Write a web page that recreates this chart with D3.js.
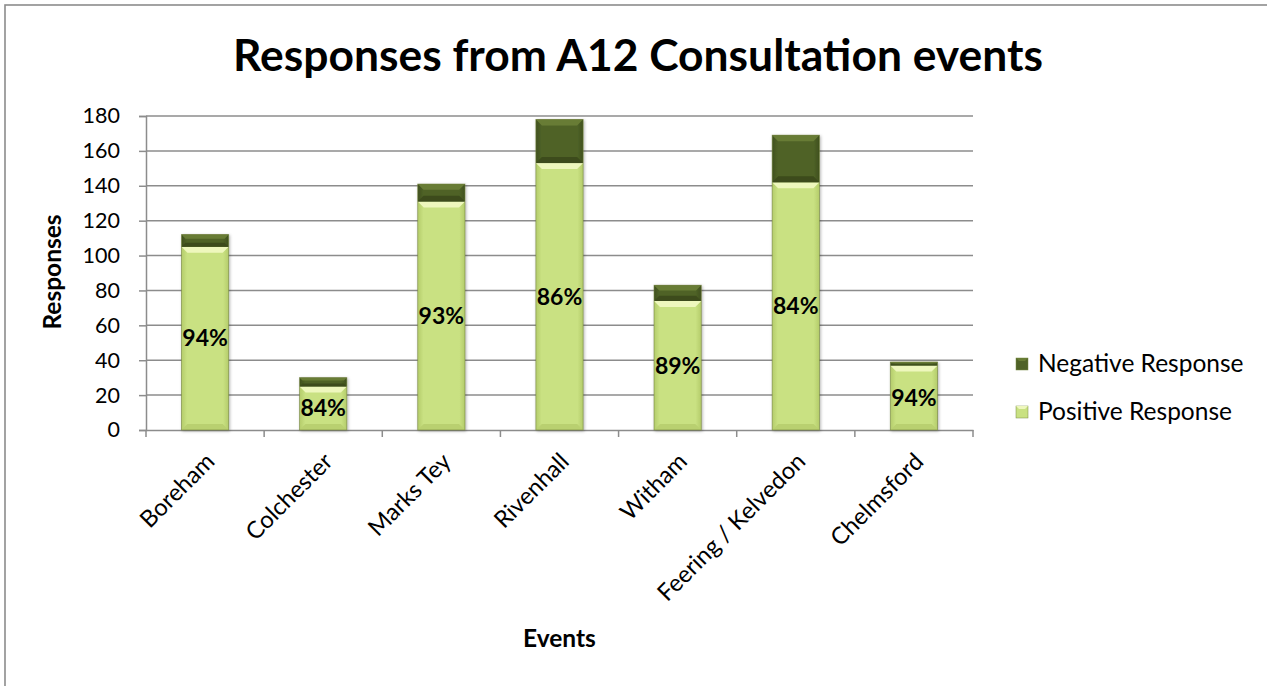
<!DOCTYPE html>
<html>
<head>
<meta charset="utf-8">
<script src="https://cdn.jsdelivr.net/npm/d3@7"></script>
<style>
  html, body { margin: 0; padding: 0; background: #fff; }
  svg { display: block; font-family: Lato, "Noto Sans", sans-serif; }
</style>
</head>
<body>
<svg id="chart" width="1267" height="686"></svg>
<script>
const categories = ["Boreham", "Colchester", "Marks Tey", "Rivenhall", "Witham", "Feering / Kelvedon", "Chelmsford"];
const positive = [105, 25, 131, 153, 74, 142, 37];
const negative = [7, 5, 10, 25, 9, 27, 2];
const pctLabels = ["94%", "84%", "93%", "86%", "89%", "84%", "94%"];
const yTicks = [0, 20, 40, 60, 80, 100, 120, 140, 160, 180];
const seriesNames = ["Negative Response", "Positive Response"];
const titleText = "Responses from A12 Consultation events";
const xTitle = "Events";
const yTitle = "Responses";

const svg = d3.select("#chart");
const W = 1267, H = 686;
const plot = { left: 146, right: 973, top: 116, bottom: 430 };
const FONT = "Lato, 'Noto Sans', sans-serif";

// outer border
svg.append("rect").attr("x", 5).attr("y", 5).attr("width", W + 10).attr("height", H + 10)
  .attr("fill", "#fff").attr("stroke", "#8c8c8c").attr("stroke-width", 1.6);

const x = d3.scaleBand().domain(categories).range([plot.left, plot.right]).paddingInner(0.6).paddingOuter(0.3);
const y = d3.scaleLinear().domain([0, 180]).range([plot.bottom, plot.top]);

// gradients
const defs = svg.append("defs");
function hGrad(id, edge, mid) {
  const g = defs.append("linearGradient").attr("id", id).attr("x1", "0").attr("x2", "1").attr("y1", "0").attr("y2", "0");
  g.append("stop").attr("offset", "0").attr("stop-color", edge);
  g.append("stop").attr("offset", "0.12").attr("stop-color", mid);
  g.append("stop").attr("offset", "0.88").attr("stop-color", mid);
  g.append("stop").attr("offset", "1").attr("stop-color", edge);
}
hGrad("gPos", "#b4cc6a", "#c9e182");
hGrad("gNeg", "#3f501d", "#4f6227");
const shadow = defs.append("filter").attr("id", "shadow").attr("x", "-20%").attr("y", "-20%").attr("width", "140%").attr("height", "140%");
shadow.append("feDropShadow").attr("dx", 1).attr("dy", 1).attr("stdDeviation", 1.5).attr("flood-color", "#000").attr("flood-opacity", 0.3);

// gridlines
svg.append("g").selectAll("line").data(yTicks.filter(d => d > 0)).join("line")
  .attr("x1", plot.left).attr("x2", plot.right)
  .attr("y1", d => y(d)).attr("y2", d => y(d))
  .attr("stroke", "#8c8c8c").attr("stroke-width", 1.5);

// y axis
const yAxis = svg.append("g").attr("transform", `translate(${plot.left},0)`)
  .call(d3.axisLeft(y).tickValues(yTicks).tickSize(7).tickPadding(19));
yAxis.select(".domain").attr("stroke", "#8c8c8c").attr("stroke-width", 1.5);
yAxis.selectAll(".tick line").attr("stroke", "#8c8c8c").attr("stroke-width", 1.5);
yAxis.selectAll(".tick text").attr("font-size", 21.5).attr("fill", "#000").attr("font-family", FONT);

// x axis
const xAxis = svg.append("g").attr("transform", `translate(0,${plot.bottom})`)
  .call(d3.axisBottom(x).tickSize(0).tickFormat(""));
xAxis.select(".domain").attr("stroke", "#8c8c8c").attr("stroke-width", 1.5);
const bstart = x.range()[0];
const bwidth = (x.range()[1] - x.range()[0]) / categories.length;
svg.append("g").selectAll("line").data(d3.range(categories.length + 1)).join("line")
  .attr("x1", i => bstart + i * bwidth).attr("x2", i => bstart + i * bwidth)
  .attr("y1", plot.bottom).attr("y2", plot.bottom + 7)
  .attr("stroke", "#8c8c8c").attr("stroke-width", 1.5);

// category labels
svg.append("g").selectAll("text").data(categories).join("text")
  .attr("transform", d => `translate(${x(d) + x.bandwidth() / 2 + 11},${plot.bottom + 33}) rotate(-45)`)
  .attr("text-anchor", "end")
  .attr("font-size", 23.7).attr("fill", "#000")
  .text(d => d);

// bars
function drawSeg(g, x0, y0, w, h, grad, top, bottom) {
  if (h <= 0) return;
  const b = Math.min(6, h / 3);
  g.append("rect").attr("x", x0).attr("y", y0).attr("width", w).attr("height", h).attr("fill", `url(#${grad})`);
  g.append("polygon").attr("points", `${x0},${y0} ${x0 + w},${y0} ${x0 + w - b},${y0 + b} ${x0 + b},${y0 + b}`).attr("fill", top);
  g.append("polygon").attr("points", `${x0},${y0 + h} ${x0 + w},${y0 + h} ${x0 + w - b},${y0 + h - b} ${x0 + b},${y0 + h - b}`).attr("fill", bottom);
}
const barsG = svg.append("g");
categories.forEach((c, i) => {
  const g = barsG.append("g").attr("filter", "url(#shadow)");
  const bx = x(c), bw = x.bandwidth();
  const p = positive[i], n = negative[i];
  drawSeg(g, bx, y(p), bw, y(0) - y(p), "gPos", "#eef7bd", "#b9d06f");
  drawSeg(g, bx, y(p + n), bw, y(p) - y(p + n), "gNeg", "#687c35", "#3c4c1b");
  g.append("rect").attr("x", bx).attr("y", y(p + n)).attr("width", bw).attr("height", y(0) - y(p + n))
    .attr("fill", "none").attr("stroke", "#6f7f3a").attr("stroke-width", 0.8).attr("stroke-opacity", 0.7);
});

// percentage labels
svg.append("g").selectAll("text").data(categories).join("text")
  .attr("x", d => x(d) + x.bandwidth() / 2)
  .attr("y", (d, i) => (y(0) + y(positive[i])) / 2)
  .attr("dy", "0.35em")
  .attr("text-anchor", "middle")
  .attr("font-size", 23).attr("font-weight", "bold").attr("fill", "#000")
  .text((d, i) => pctLabels[i]);

// title
const t = svg.append("text").attr("x", (233 + 1043) / 2).attr("y", 71).attr("text-anchor", "middle")
  .attr("font-size", 44).attr("font-weight", "bold").attr("fill", "#000").text(titleText);
const tl = t.node().getComputedTextLength();
t.attr("font-size", 44 * 810 / tl);

// axis titles
svg.append("text").attr("x", (plot.left + plot.right) / 2).attr("y", 647).attr("text-anchor", "middle")
  .attr("font-size", 24.5).attr("font-weight", "bold").text(xTitle);
svg.append("text").attr("transform", `translate(61,${(plot.top + plot.bottom) / 2 - 1}) rotate(-90)`)
  .attr("text-anchor", "middle").attr("font-size", 24.5).attr("font-weight", "bold").text(yTitle);

// legend
const legColors = [["#4f6227", "#687c35"], ["#c9e182", "#eef7bd"]];
const leg = svg.append("g").selectAll("g").data(seriesNames).join("g")
  .attr("transform", (d, i) => `translate(1016,${358 + i * 48})`);
leg.append("rect").attr("width", 12).attr("height", 12).attr("fill", (d, i) => legColors[i][0]).attr("stroke", "#7a8a45").attr("stroke-width", 0.5);
leg.append("polygon").attr("points", "0,0 12,0 9,3 3,3").attr("fill", (d, i) => legColors[i][1]);
leg.append("text").attr("x", 22).attr("y", 14).attr("font-size", 24.5).attr("fill", "#000").text(d => d);
</script>
</body>
</html>
